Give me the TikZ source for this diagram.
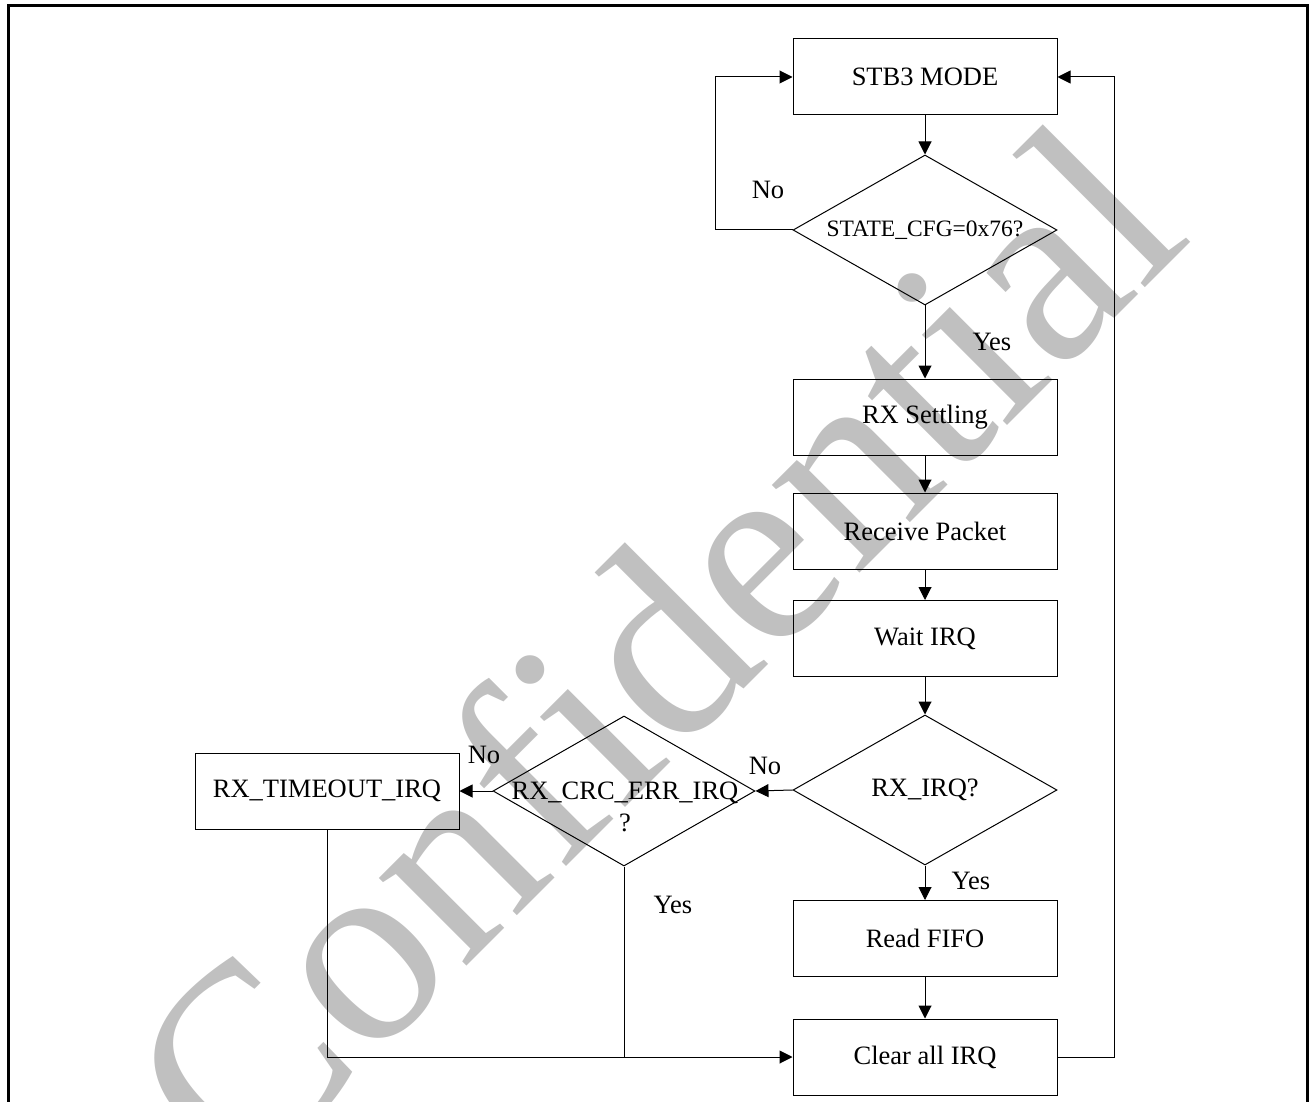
\documentclass[tikz,border=0pt]{standalone}
\usepackage{fontspec}
\setmainfont{Liberation Serif}
\usetikzlibrary{shapes.geometric,arrows.meta}
\definecolor{wmgray}{RGB}{192,192,192}
\newcommand\dgfs{\fontsize{26.5}{32}\selectfont}
\newcommand\dgfss{\fontsize{23.5}{28}\selectfont}
\begin{document}
\begin{tikzpicture}[x=1pt,y=-1pt,
  box/.style={draw,line width=1pt,minimum width=264pt,minimum height=76pt,inner sep=0pt,font=\dgfs},
  dia/.style={draw,diamond,line width=1pt,minimum width=264pt,minimum height=150pt,inner sep=0pt},
  lbl/.style={font=\dgfs,inner sep=0pt},
  arr/.style={line width=1pt,-{Triangle[length=13pt,width=13pt]}},
  ln/.style={line width=1pt}]
\useasboundingbox (0,0) rectangle (1310,1102);
\clip (0,0) rectangle (1310,1102);
% watermark
\node[text=wmgray,font=\fontsize{270}{300}\selectfont,inner sep=0pt,rotate=45,anchor=base west] (wm) at (240,1193) {Confidential};
% frame
\draw[line width=3pt] (8,6) rectangle (1307.5,1130);
% nodes
\node[box] (stb) at (925,77) {STB3 MODE};
\node[dia] (d1) at (925,230) {};
\node[font=\dgfss,inner sep=0pt] (d1t) at (d1) {STATE\_CFG=0x76?};
\node[box] (set) at (925,417) {RX Settling};
\node[box] (rcv) at (925,531) {Receive Packet};
\node[box] (wait) at (925,638.5) {Wait IRQ};
\node[dia] (d2) at (925,790) {};
\node[lbl] (d2t) at (d2) {RX\_IRQ?};
\node[dia,minimum width=262pt] (d3) at (624,791) {};
\node[font=\dgfs,inner sep=0pt,align=center] (d3t) at (625,807) {RX\_CRC\_ERR\_IRQ\\?};
\node[box] (tmo) at (327,791) {RX\_TIMEOUT\_IRQ};
\node[box] (fifo) at (925,938.5) {Read FIFO};
\node[box] (clr) at (925,1057) {Clear all IRQ};
\coordinate (lp) at (715,0);
\coordinate (rp) at (1114,0);
% connectors
\draw[arr] (stb.south) -- (d1.north);
\draw[arr] (d1.west) -- (d1.west -| lp) -- (stb.west -| lp) -- (stb.west);
\draw[arr] (d1.south) -- (set.north);
\draw[arr] (set.south) -- (rcv.north);
\draw[arr] (rcv.south) -- (wait.north);
\draw[arr] (wait.south) -- (d2.north);
\draw[arr] (d2.west) -- (d3.east);
\draw[arr] (d3.west) -- (tmo.east);
\draw[arr] (d2.south) -- (fifo.north);
\draw[arr] (fifo.south) -- (clr.north);
\draw[arr] (tmo.south) |- (clr.west);
\draw[ln] (d3.south) -- (d3.south |- clr.west);
\draw[arr] (clr.east) -- (clr.east -| rp) -- (stb.east -| rp) -- (stb.east);
% labels
\node[lbl] (no1) at (768,190) {No};
\node[lbl] (yes1) at (992,342) {Yes};
\node[lbl] (no2) at (765,766) {No};
\node[lbl] (no3) at (484,755) {No};
\node[lbl] (yes2) at (673,905) {Yes};
\node[lbl] (yes3) at (971,881) {Yes};
\end{tikzpicture}
\end{document}
